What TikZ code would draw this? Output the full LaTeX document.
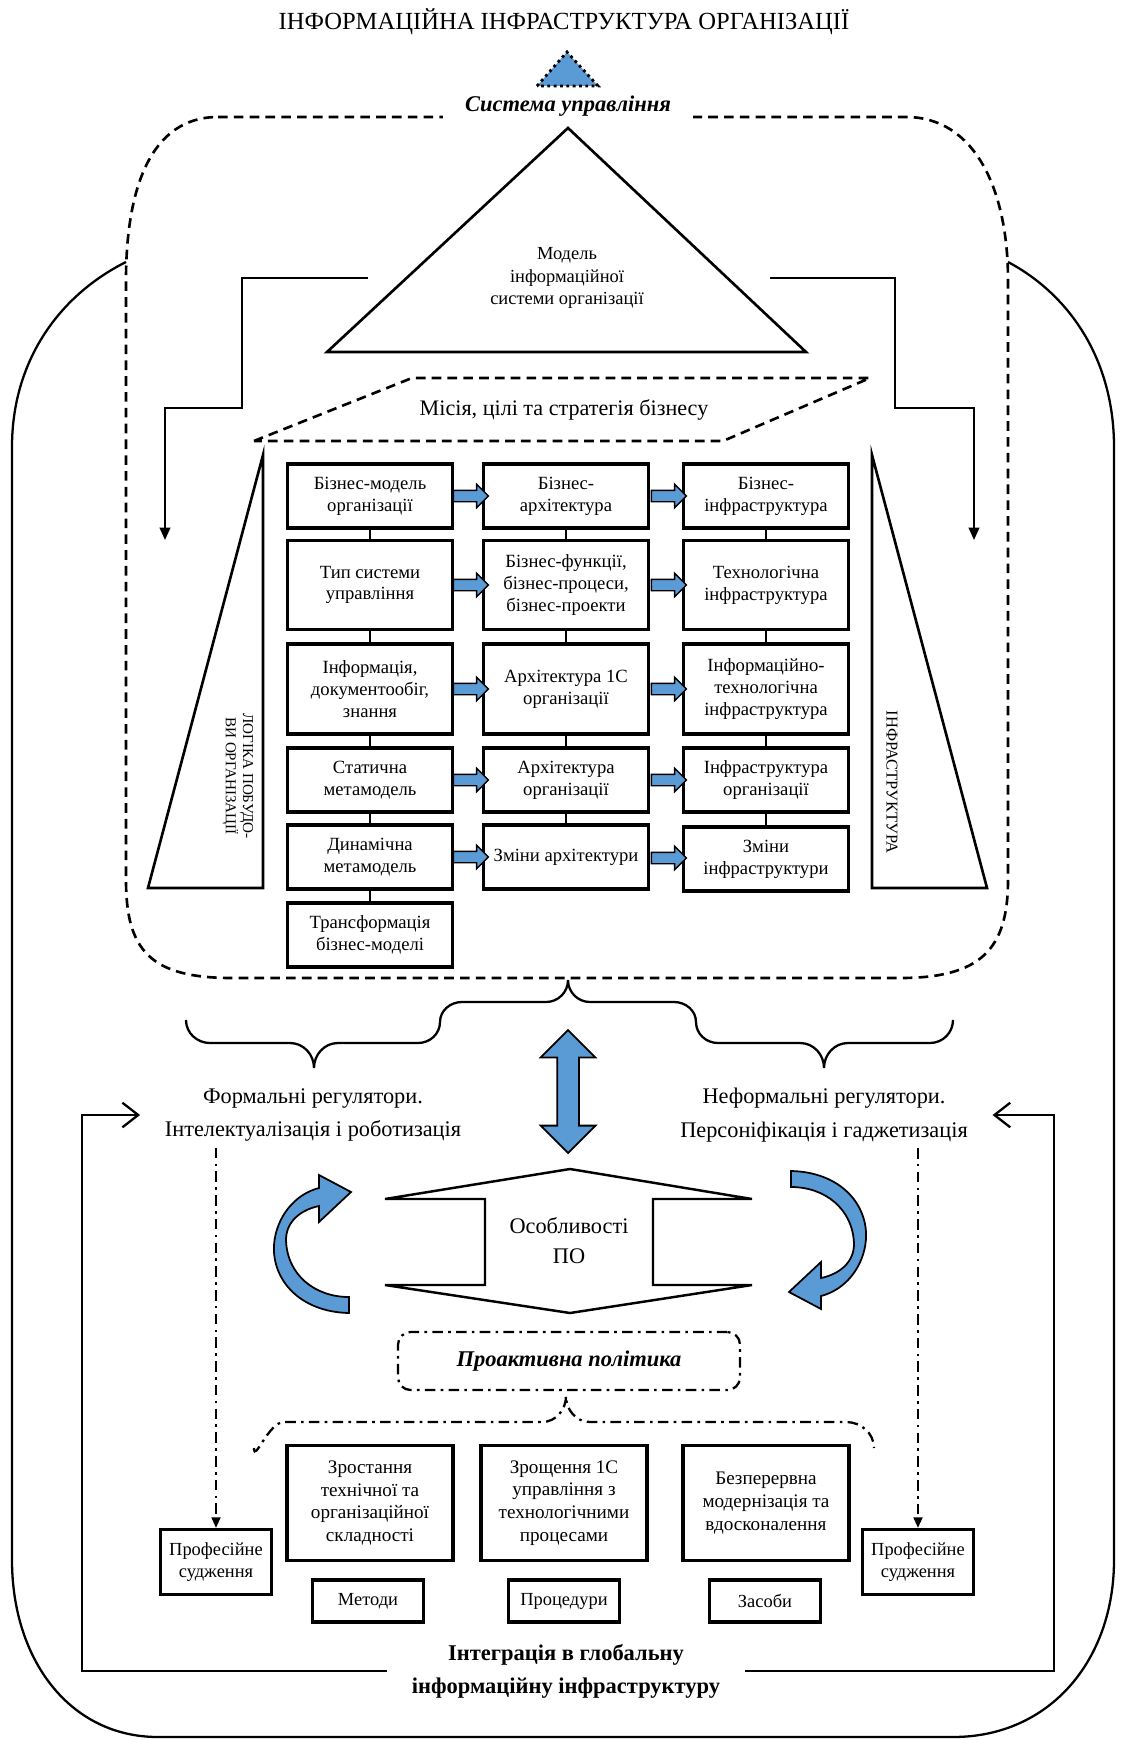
\documentclass[tikz,border=0pt]{standalone}
\usepackage{fontspec}
\setmainfont{Liberation Serif}
\usetikzlibrary{arrows.meta,shapes.arrows,calc}
\definecolor{arrblue}{RGB}{91,155,213}

\begin{document}
\begin{tikzpicture}
  [x=0.02cm, y=-0.02cm,
   gbox/.style={draw, line width=1.8pt, minimum width=3.3cm, align=center, inner sep=1pt,
     font=\fontsize{10.6}{12.4}\selectfont},
   lbox/.style={gbox, minimum width=3.32cm, minimum height=2.3cm, font=\fontsize{10.9}{13}\selectfont},
   sbox/.style={gbox, minimum width=2.22cm, font=\fontsize{10.5}{12.2}\selectfont},
   barrow/.style={single arrow, draw, line width=0.8pt, fill=arrblue, minimum height=0.7cm,
     inner sep=0.1cm, single arrow head extend=0.12cm},
   darrow/.style={double arrow, draw, line width=1pt, fill=arrblue, rotate=90, minimum height=2.46cm,
     inner sep=0.2cm, double arrow head extend=0.33cm},
   conn/.style={line width=1pt},
   stepline/.style={line width=1.1pt, -{Triangle[length=7pt,width=6pt]}},
   dashline/.style={line width=1.5pt, dash pattern=on 5.5pt off 3.5pt},
   dotdash/.style={line width=1.3pt, dash pattern=on 6pt off 3pt on 1.5pt off 3pt},
   retline/.style={line width=1.3pt, -{Straight Barb[length=9pt,width=14pt]}},
   regtext/.style={align=center, inner xsep=0.49cm, font=\fontsize{12.7}{19}\selectfont},
   pics/curvarr/.style={code={
     \draw[line width=1pt, fill=arrblue, line join=miter]
       (-221,71) .. controls (-270,70) and (-298,38) .. (-296,3)
       .. controls (-294,-25) and (-275,-48) .. (-251,-54)
       -- (-251,-67) -- (-219,-50) -- (-251,-20) -- (-251,-36)
       .. controls (-270,-32) and (-284,-20) .. (-284,-2)
       .. controls (-283,33) and (-255,55) .. (-221,55) -- cycle;
   }}]
  \useasboundingbox (0,0) rectangle (1123,1740);

  % top part
  \node[font=\fontsize{14}{16}\selectfont] (title) at (564,22) {ІНФОРМАЦІЙНА ІНФРАСТРУКТУРА ОРГАНІЗАЦІЇ};
  \draw[dotted, line width=1.6pt, fill=arrblue] (537,86) -- (567,52) -- (598,86) -- cycle;

  \draw[line width=1.3pt] (126,262) .. controls (60,295) and (12,360) .. (12,447) -- (12,1560)
    .. controls (12,1660) and (70,1737) .. (158,1737) -- (953,1737)
    .. controls (1050,1737) and (1114,1660) .. (1114,1560) -- (1114,447)
    .. controls (1114,360) and (1070,295) .. (1008,262);
  \draw[dashline] (218,117) -- (906,117) .. controls (975,117) and (1008,190) .. (1008,280)
    -- (1008,880) .. controls (1008,950) and (980,978) .. (900,978) -- (232,978)
    .. controls (150,978) and (126,950) .. (126,880) -- (126,280)
    .. controls (126,190) and (150,117) .. (218,117) -- cycle;
  \node[fill=white, inner xsep=0.44cm, font=\bfseries\itshape\fontsize{12.8}{15}\selectfont] (sys) at (568,106) {Система управління};

  \draw[line width=1.5pt] (327,352) -- (568,128) -- (806,352) -- cycle;
  \node[align=center, font=\fontsize{10.5}{13}\selectfont] (model) at (567,278) {Модель\\інформаційної\\системи організації};

  \coordinate (ls) at (368,278);
  \coordinate (le) at (165,540);
  \coordinate (rs) at (770,278);
  \coordinate (re) at (974,540);
  \draw[stepline] (ls) -- (242,278) -- (242,408) -| (le);
  \draw[stepline] (rs) -- (895,278) -- (895,408) -| (re);

  \draw[dashline] (254,441) -- (412,378) -- (870,378) -- (723,441) -- cycle;
  \node[font=\fontsize{12.6}{14}\selectfont] (mission) at (564,410) {Місія, цілі та стратегія бізнесу};

  \draw[line width=1.5pt] (148,888) -- (263,455) -- (263,888) -- cycle;
  \node[rotate=-90, align=center, font=\fontsize{8.6}{9.8}\selectfont] (logic) at (238,776) {ЛОГІКА ПОБУДО-\\ВИ ОРГАНІЗАЦІЇ};
  \draw[line width=1.5pt] (872,455) -- (987,888) -- (872,888) -- cycle;
  \node[rotate=-90, font=\fontsize{9.4}{10}\selectfont] (infra) at (892,782) {ІНФРАСТРУКТУРА};

  % grid
  \node[gbox, minimum height=1.28cm] (bm1) at (370,496) {Бізнес-модель\\організації};
  \node[gbox, minimum height=1.78cm] (bm2) at (370,585) {Тип системи\\управління};
  \node[gbox, minimum height=1.8cm] (bm3) at (370,689) {Інформація,\\документообіг,\\знання};
  \node[gbox, minimum height=1.28cm] (bm4) at (370,780) {Статична\\метамодель};
  \node[gbox, minimum height=1.28cm] (bm5) at (370,857) {Динамічна\\метамодель};
  \node[gbox, minimum height=1.28cm] (bm6) at (370,935) {Трансформація\\бізнес-моделі};

  \node[gbox, minimum height=1.28cm] (ar1) at (566,496) {Бізнес-\\архітектура};
  \node[gbox, minimum height=1.78cm] (ar2) at (566,585) {Бізнес-функції,\\бізнес-процеси,\\бізнес-проекти};
  \node[gbox, minimum height=1.8cm] (ar3) at (566,689) {Архітектура 1С\\організації};
  \node[gbox, minimum height=1.28cm] (ar4) at (566,780) {Архітектура\\організації};
  \node[gbox, minimum height=1.28cm] (ar5) at (566,857) {Зміни архітектури};

  \node[gbox, minimum height=1.28cm] (in1) at (766,496) {Бізнес-\\інфраструктура};
  \node[gbox, minimum height=1.78cm] (in2) at (766,585) {Технологічна\\інфраструктура};
  \node[gbox, minimum height=1.8cm] (in3) at (766,689) {Інформаційно-\\технологічна\\інфраструктура};
  \node[gbox, minimum height=1.28cm] (in4) at (766,780) {Інфраструктура\\організації};
  \node[gbox, minimum height=1.28cm] (in5) at (766,859) {Зміни\\інфраструктури};

  \foreach \from/\to in {bm1/bm2,bm2/bm3,bm3/bm4,bm4/bm5,bm5/bm6,ar1/ar2,ar2/ar3,ar3/ar4,ar4/ar5,in1/in2,in2/in3,in3/in4,in4/in5}
  \draw[conn] (\from) -- (\to);

  \foreach \i in {1,...,5} {
    \node[barrow] at ($(bm\i.east)!.5!(ar\i.west)$) {};
    \node[barrow] at ($(ar\i.east)!.5!(in\i.west)$) {};
  }

  % middle part
  \draw[line width=1.3pt] (186,1020) to[out=-90,in=180] (210,1043) -- (290,1043) to[out=0,in=90] (314,1068)
    to[out=90,in=180] (338,1043) -- (418,1043) to[out=0,in=-90] (440,1022) to[out=90,in=180] (462,1002)
    -- (546,1002) to[out=0,in=-90] (568,980) to[out=-90,in=180] (590,1002) -- (674,1002)
    to[out=0,in=90] (696,1022) to[out=-90,in=180] (718,1043) -- (800,1043) to[out=0,in=90] (824,1068)
    to[out=90,in=180] (848,1043) -- (930,1043) to[out=0,in=-90] (953,1020);

  \node[darrow] (link) at (568,1091.5) {};

  \node[regtext] (formal) at (313,1115) {Формальні регулятори.\\Інтелектуалізація і роботизація};
  \node[regtext] (informal) at (824,1115) {Неформальні регулятори.\\Персоніфікація і гаджетизація};

  \draw[line width=1.4pt, line join=miter] (570,1169) -- (752,1199) -- (653,1199) -- (653,1285) -- (752,1285)
    -- (570,1313) -- (385,1285) -- (485,1285) -- (485,1199) -- (385,1199) -- cycle;
  \node[align=center, font=\fontsize{12.7}{17}\selectfont] (feat) at (569,1241) {Особливості\\ПО};

  \pic at (570,1242) {curvarr};
  \pic[rotate=180] at (570,1242) {curvarr};

  \node[draw, dotdash, rounded corners=0.25cm, minimum width=6.84cm, minimum height=1.16cm,
    font=\bfseries\itshape\fontsize{12.8}{15}\selectfont] (pro) at (569,1361) {Проактивна політика};
  \draw[dotdash] (254,1448) to[out=-90,in=180] (284,1422) -- (542,1422) to[out=0,in=-90] (566,1396)
    to[out=-90,in=180] (590,1422) -- (846,1422) to[out=0,in=90] (874,1448);

  % bottom part
  \node[lbox] (grow) at (370,1503) {Зростання\\технічної та\\організаційної\\складності};
  \node[lbox] (fuse) at (564,1503) {Зрощення 1С\\управління з\\технологічними\\процесами};
  \node[lbox] (modern) at (766,1503) {Безперервна\\модернізація та\\вдосконалення};

  \node[sbox, minimum height=1.3cm] (pj1) at (216,1562) {Професійне\\судження};
  \node[sbox, minimum height=1.3cm] (pj2) at (918,1562) {Професійне\\судження};
  \node[sbox, minimum height=0.84cm] (met) at (368,1601) {Методи};
  \node[sbox, minimum height=0.84cm] (proc) at (564,1601) {Процедури};
  \node[sbox, minimum height=0.84cm] (zas) at (765,1601) {Засоби};

  \draw[dotdash, -{Triangle[length=6pt,width=5pt]}] (pj1.north |- formal.south) -- (pj1.north);
  \draw[dotdash, -{Triangle[length=6pt,width=5pt]}] (pj2.north |- informal.south) -- (pj2.north);

  \node[align=center, inner xsep=0.5cm, font=\bfseries\fontsize{12.8}{18.7}\selectfont] (integ) at (566,1671) {Інтеграція в глобальну\\інформаційну інфраструктуру};

  \coordinate (lturn) at (82,1671);
  \coordinate (rturn) at (1054,1671);
  \draw[retline] (integ.west) -- (lturn) |- (formal.west);
  \draw[retline] (integ.east) -- (rturn) |- (informal.east);

\end{tikzpicture}
\end{document}
